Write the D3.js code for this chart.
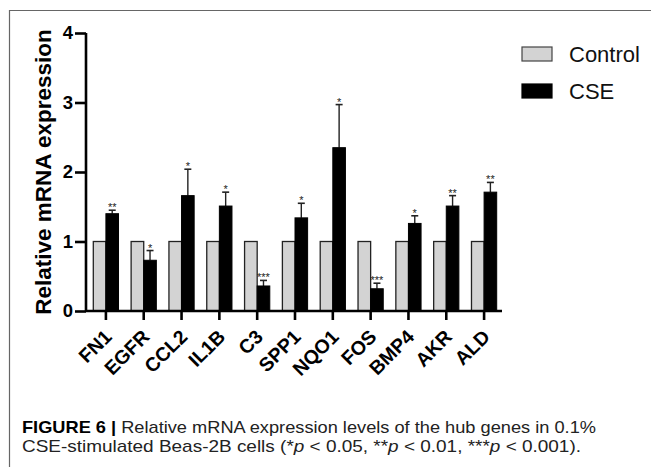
<!DOCTYPE html>
<html>
<head>
<meta charset="utf-8">
<script src="https://cdn.jsdelivr.net/npm/d3@7"></script>
<style>
  body { margin: 0; background: #fff; }
  svg { display: block; font-family: "Liberation Sans", Arial, sans-serif; }
</style>
</head>
<body>
<svg id="chart" width="651" height="467"></svg>
<script>
// Data
const genes = ["FN1", "EGFR", "CCL2", "IL1B", "C3", "SPP1", "NQO1", "FOS", "BMP4", "AKR", "ALD"];
const controlValues = [1, 1, 1, 1, 1, 1, 1, 1, 1, 1, 1];
const cseValues = [1.40, 0.73, 1.66, 1.51, 0.36, 1.34, 2.35, 0.32, 1.26, 1.51, 1.71];
const cseErrors = [0.05, 0.14, 0.38, 0.20, 0.08, 0.21, 0.62, 0.08, 0.11, 0.15, 0.14];
const stars = ["**", "*", "*", "*", "***", "*", "*", "***", "*", "**", "**"];
const yTicks = [0, 1, 2, 3, 4];
const groups = ["Control", "CSE"];

const svg = d3.select("#chart");
const margin = { top: 33, left: 86, right: 149, bottom: 156 };
const width = 651, height = 467;

const x = d3.scaleBand().domain(genes).range([margin.left + 1, width - margin.right + 1]).padding(0);
const xSub = d3.scaleBand().domain(groups).range([0, x.bandwidth()]).paddingInner(0).paddingOuter(0.5);
const y = d3.scaleLinear().domain([0, 4]).range([height - margin.bottom, margin.top]);

const fills = { Control: "#d3d3d3", CSE: "#000" };

// page frame
svg.append("path")
  .attr("d", `M9.5,${height} V10.5 H${width}`)
  .attr("fill", "none")
  .attr("stroke", "#666")
  .attr("stroke-width", 1.2);

const rows = genes.map((g, i) => ({ gene: g, control: controlValues[i], cse: cseValues[i], err: cseErrors[i], star: stars[i] }));

// bars
const grp = svg.append("g").selectAll("g").data(rows).join("g")
  .attr("transform", d => `translate(${x(d.gene)},0)`);

grp.append("rect") // control
  .attr("x", xSub("Control"))
  .attr("width", xSub.bandwidth())
  .attr("y", d => y(d.control))
  .attr("height", d => y(0) - y(d.control))
  .attr("fill", fills.Control)
  .attr("stroke", "#222")
  .attr("stroke-width", 1.3);

// error bars (drawn before CSE bar so stem hides inside)
grp.append("line")
  .attr("x1", xSub("CSE") + xSub.bandwidth() / 2)
  .attr("x2", xSub("CSE") + xSub.bandwidth() / 2)
  .attr("y1", d => y(d.cse))
  .attr("y2", d => y(d.cse + d.err))
  .attr("stroke", "#222").attr("stroke-width", 1.4);
grp.append("line")
  .attr("x1", xSub("CSE") + xSub.bandwidth() / 2 - 3.5)
  .attr("x2", xSub("CSE") + xSub.bandwidth() / 2 + 3.5)
  .attr("y1", d => y(d.cse + d.err))
  .attr("y2", d => y(d.cse + d.err))
  .attr("stroke", "#222").attr("stroke-width", 1.6);

grp.append("rect") // CSE
  .attr("x", xSub("CSE"))
  .attr("width", xSub.bandwidth())
  .attr("y", d => y(d.cse))
  .attr("height", d => y(0) - y(d.cse))
  .attr("fill", fills.CSE)
  .attr("stroke", "#000")
  .attr("stroke-width", 1);

// significance stars
grp.append("text")
  .text(d => d.star)
  .attr("x", xSub("CSE") + xSub.bandwidth() / 2)
  .attr("y", d => y(d.cse + d.err) + 1)
  .attr("text-anchor", "middle")
  .attr("font-size", 11)
  .attr("fill", "#222");

// axes
const yAxis = svg.append("g")
  .attr("transform", `translate(${margin.left},0)`)
  .call(d3.axisLeft(y).tickValues(yTicks).tickFormat(d3.format("d")).tickSize(11).tickPadding(2));
yAxis.select(".domain").attr("d", `M0,${y(4)}V${y(0)}`);

const xAxis = svg.append("g")
  .attr("transform", `translate(0,${y(0)})`)
  .call(d3.axisBottom(x).tickSize(9).tickSizeOuter(0).tickFormat(""));
xAxis.select(".domain").attr("d", `M${margin.left},0H${x.range()[1] - 1}`);

svg.selectAll(".domain, .tick line").attr("stroke", "#000").attr("stroke-width", 2.6);
yAxis.selectAll("text")
  .attr("font-size", 18.5)
  .attr("font-weight", "bold")
  .attr("fill", "#000")
  .attr("font-family", "Liberation Sans, Arial, sans-serif");

// rotated gene labels
svg.append("g").selectAll("text").data(genes).join("text")
  .text(d => d)
  .attr("transform", d => `translate(${x(d) + x.bandwidth() / 2 + 7},${y(0) + 27}) rotate(-45)`)
  .attr("text-anchor", "end")
  .attr("font-size", 19.5)
  .attr("font-weight", "bold")
  .attr("fill", "#000");

// y axis title
svg.append("text")
  .text("Relative mRNA expression")
  .attr("transform", `translate(51,${(y(4) + y(0)) / 2}) rotate(-90)`)
  .attr("text-anchor", "middle")
  .attr("font-size", 22.5)
  .attr("font-weight", "bold")
  .attr("fill", "#000");

// legend
const legend = svg.append("g").selectAll("g").data(groups).join("g")
  .attr("transform", (d, i) => `translate(522,${47 + i * 37})`);
legend.append("rect")
  .attr("width", 30).attr("height", 14)
  .attr("fill", d => fills[d])
  .attr("stroke", d => d === "Control" ? "#444" : "#000")
  .attr("stroke-width", 1.2);
legend.append("text")
  .text(d => d)
  .attr("x", 47)
  .attr("y", 15)
  .attr("font-size", 22)
  .attr("fill", "#111");

// caption
const cap1 = svg.append("text").attr("x", 22).attr("y", 433).attr("font-size", 17).attr("fill", "#222")
  .attr("textLength", 574).attr("lengthAdjust", "spacingAndGlyphs");
cap1.append("tspan").attr("font-weight", "bold").attr("fill", "#000").text("FIGURE 6 | ");
cap1.append("tspan").text("Relative mRNA expression levels of the hub genes in 0.1%");

const cap2 = svg.append("text").attr("x", 22).attr("y", 452).attr("font-size", 17).attr("fill", "#222")
  .attr("textLength", 559).attr("lengthAdjust", "spacingAndGlyphs");
const capParts = [["CSE-stimulated Beas-2B cells (*", false], ["p", true], [" < 0.05, **", false], ["p", true],
  [" < 0.01, ***", false], ["p", true], [" < 0.001).", false]];
capParts.forEach(([t, it]) => cap2.append("tspan").attr("font-style", it ? "italic" : null).text(t));
</script>
</body>
</html>
